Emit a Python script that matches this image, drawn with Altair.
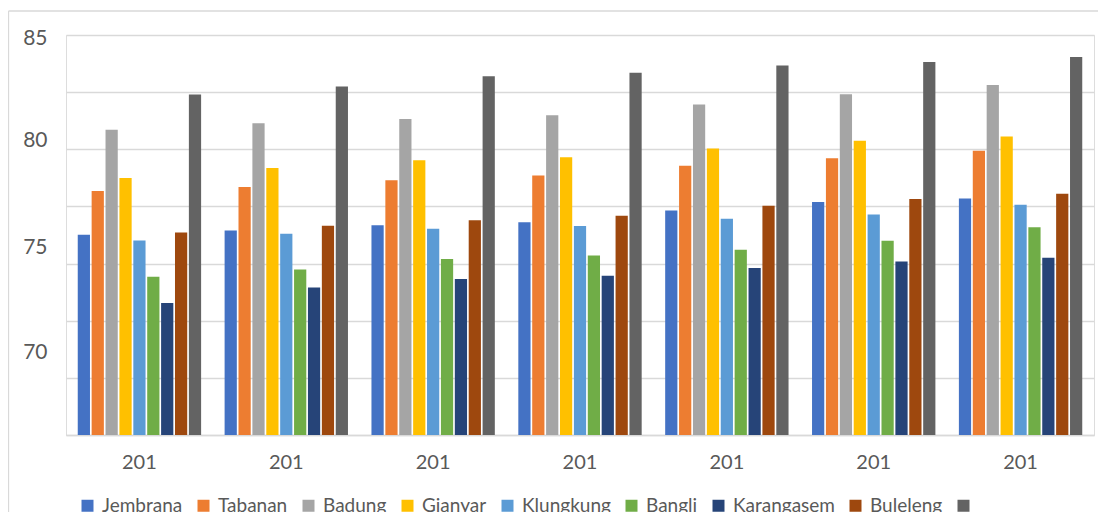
import altair as alt
import pandas as pd

years = ["2010", "2011", "2012", "2013", "2014", "2015", "2016"]
series = ["Jembrana", "Tabanan", "Badung", "Gianyar", "Klungkung",
          "Bangli", "Karangasem", "Buleleng", "Denpasar"]
colors = ["#4472C4", "#ED7D31", "#A5A5A5", "#FFC000", "#5B9BD5",
          "#70AD47", "#264478", "#9E480E", "#636363"]

jembrana = [76.26, 76.45, 76.68, 76.81, 77.32, 77.69, 77.85]
tabanan = [78.17, 78.35, 78.65, 78.85, 79.28, 79.61, 79.94]
badung = [80.85, 81.14, 81.32, 81.49, 81.96, 82.41, 82.81]
gianyar = [78.74, 79.18, 79.52, 79.65, 80.03, 80.37, 80.56]
klungkung = [76.01, 76.30, 76.52, 76.64, 76.96, 77.15, 77.57]
bangli = [74.42, 74.74, 75.20, 75.35, 75.60, 76.00, 76.59]
karangasem = [73.28, 73.95, 74.33, 74.47, 74.81, 75.09, 75.26]
buleleng = [76.36, 76.65, 76.89, 77.09, 77.53, 77.82, 78.06]
denpasar = [82.40, 82.75, 83.20, 83.35, 83.67, 83.82, 84.04]

values = [jembrana, tabanan, badung, gianyar, klungkung,
          bangli, karangasem, buleleng, denpasar]

rows = []
for s, vals in zip(series, values):
    for y, v in zip(years, vals):
        rows.append({"year": y, "series": s, "value": v})
df = pd.DataFrame(rows)

FONT = "Lato"
TXT = "#595959"
GRID = "#d9d9d9"

bars = alt.Chart(df).mark_bar(clip=True).encode(
    x=alt.X("year:N", sort=years, title=None,
            scale=alt.Scale(paddingInner=0.16, paddingOuter=0.08),
            axis=alt.Axis(labelAngle=0, ticks=False, domain=True,
                          domainColor=GRID, domainWidth=1.3,
                          labelExpr="slice(datum.label, 0, 3)",
                          labelFont=FONT, labelFontSize=20,
                          labelColor=TXT, labelPadding=17, grid=False)),
    xOffset=alt.XOffset("series:N",
                        scale=alt.Scale(domain=series, paddingInner=0.12)),
    y=alt.Y("value:Q", title=None,
            scale=alt.Scale(domain=[67.5, 85], nice=False, zero=False),
            axis=alt.Axis(values=[67.5, 70, 72.5, 75, 77.5, 80, 82.5, 85],
                          labelExpr="(datum.value % 5 == 0 && datum.value >= 70) ? datum.label : ''",
                          ticks=False, domain=False, grid=True,
                          gridColor=GRID, gridWidth=1.3,
                          labelFont=FONT, labelFontSize=21,
                          labelColor=TXT, labelPadding=19,
                          labelOffset={"condition": [
                              {"test": "datum.value == 80", "value": -9},
                              {"test": "datum.value == 75", "value": -16},
                              {"test": "datum.value == 70", "value": -25}],
                              "value": 3})),
    color=alt.Color("series:N",
                    scale=alt.Scale(domain=series, range=colors),
                    legend=alt.Legend(
                        title=None, orient="none", legendX=12, legendY=461,
                        direction="horizontal", columns=9,
                        symbolType="square", symbolSize=144,
                        symbolStrokeWidth=0, symbolOpacity=1,
                        labelFont=FONT, labelFontSize=19, labelColor=TXT,
                        labelOffset=5, columnPadding=11, labelLimit=0,
                        labelExpr="datum.label == 'Denpasar' ? '' : datum.label")),
)

frame = alt.Chart(alt.Data(values=[{}])).mark_rule(
    color=GRID, strokeWidth=1.3
)
left_border = frame.encode(x=alt.value(-57.5), y=alt.value(-24), y2=alt.value(480))
top_border = frame.encode(x=alt.value(-57.5), x2=alt.value(1034), y=alt.value(-24))

chart = alt.layer(bars, left_border, top_border).properties(
    width=1028,
    height=400,
    padding={"left": 58, "top": 27, "right": 4, "bottom": 77},
    autosize=alt.AutoSizeParams(type="none"),
).configure_view(stroke=None).configure(background="white")

chart.save("out.html", embed_options={"renderer": "svg", "actions": False})
